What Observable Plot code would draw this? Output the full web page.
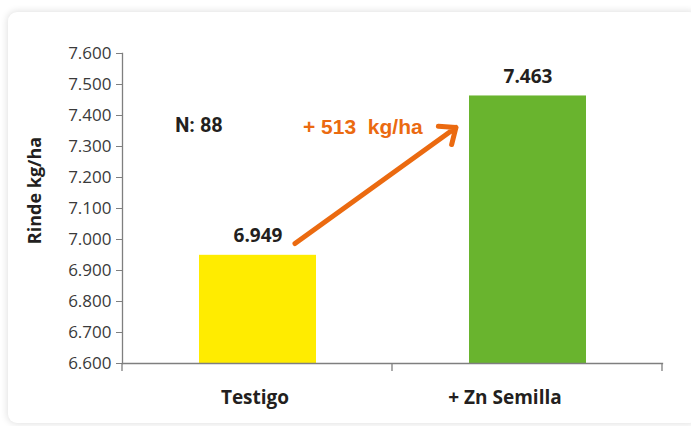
<!DOCTYPE html>
<html>
<head>
<meta charset="utf-8">
<script src="https://cdn.jsdelivr.net/npm/d3@7"></script>
<script src="https://cdn.jsdelivr.net/npm/@observablehq/plot@0.6"></script>
<style>
html, body { margin: 0; padding: 0; background: #fff; }
#wrap { position: relative; width: 691px; height: 426px; overflow: hidden; }
#card { position: absolute; left: 8px; top: 12px; width: 690px; height: 411px; background: #fff; border-radius: 9px; box-shadow: 0 0 7px 1px rgba(0,0,0,0.12); }
#chart { position: absolute; left: 0; top: 0; }
</style>
</head>
<body>
<div id="wrap"><div id="card"></div><div id="chart"></div></div>
<script>
// ---- data ----
const categories = ["Testigo", "+ Zn Semilla"];
const values = [6949, 7463];
const barColors = ["#FFEC00", "#69B42E"];
const yDomain = [6600, 7600];
const yTicks = [6600, 6700, 6800, 6900, 7000, 7100, 7200, 7300, 7400, 7500, 7600];
const yTitle = "Rinde kg/ha";
const nLabel = "N: 88";
const diffLabel = "+ 513  kg/ha";
const arrowFrom = "Testigo";
const arrowTo = "+ Zn Semilla";
const arrowY = [6901, 7529];
const annotY = [7366, 7362];

const fmt = d3.formatLocale({decimal: ",", thousands: ".", grouping: [3], currency: ["", ""]}).format(",");

const data = categories.map((c, i) => ({cat: c, value: values[i], color: barColors[i]}));
const orange = "#EB6A10";
const dark = "#231f20";
const axisGray = "#7f7f7f";

const plot = Plot.plot({
  width: 691,
  height: 426,
  marginLeft: 122,
  marginRight: 29,
  marginTop: 53,
  marginBottom: 63,
  style: {background: "transparent", fontFamily: "'Open Sans', sans-serif", color: "#404040", overflow: "visible"},
  x: {domain: categories, paddingInner: 0.567, paddingOuter: 0.2835, axis: null},
  y: {domain: yDomain, axis: null},
  color: {type: "identity"},
  marks: [
    Plot.barY(data, {x: "cat", y1: yDomain[0], y2: "value", fill: "color"}),
    Plot.axisY({ticks: yTicks, tickFormat: fmt, tickSize: 6, tickPadding: 5, fontSize: 17, stroke: axisGray, fill: "#3a3a3a", label: null}),
    Plot.frame({anchor: "left", stroke: axisGray, strokeWidth: 1.3}),
    Plot.frame({anchor: "bottom", stroke: axisGray, strokeWidth: 1.3}),
    Plot.text(data, {x: "cat", y: "value", text: d => fmt(d.value), lineAnchor: "bottom", dy: -13, fontSize: 19, fontWeight: 700, fill: dark}),
    Plot.text(data.filter(d => d.cat === categories[0]), {x: "cat", y: yDomain[0], text: "cat", lineAnchor: "middle", dy: 34, dx: -3, fontSize: 19, fontWeight: 700, fill: dark}),
    Plot.text(data.filter(d => d.cat === categories[1]), {x: "cat", y: yDomain[0], text: "cat", lineAnchor: "middle", dy: 34, dx: -23, fontSize: 19, fontWeight: 700, fill: dark}),
    Plot.text([yTitle], {text: d => d, frameAnchor: "left", textAnchor: "middle", lineAnchor: "middle", rotate: -90, dx: -87, dy: -18, fontSize: 18, fontWeight: 700, fill: dark}),
    Plot.text([nLabel], {text: d => d, x: () => categories[0], y: () => annotY[0], dx: -59, lineAnchor: "middle", fontFamily: "Roboto", fontSize: 20, fontWeight: 700, fill: dark}),
    Plot.text([diffLabel], {text: d => d, x: () => categories[0], y: () => annotY[1], dx: 45, textAnchor: "start", lineAnchor: "middle", fontFamily: "'Liberation Sans', sans-serif", fontSize: 21, fontWeight: 700, fill: orange}),
    Plot.arrow([{x1: arrowFrom, x2: arrowTo, y1: arrowY[0], y2: arrowY[1]}], {x1: "x1", x2: "x2", y1: "y1", y2: "y2", stroke: orange, strokeWidth: 5, headLength: 5.3, headAngle: 80, insetStart: 45.6, insetEnd: 88.8})
  ]
});

// category tick marks at band boundaries
const xs = plot.scale("x");
const ys = plot.scale("y");
const [r0, r1] = xs.range;
const n = categories.length;
const yb = ys.apply(yDomain[0]);
d3.select(plot).append("g")
  .attr("stroke", axisGray).attr("stroke-width", 1.3)
  .selectAll("line").data(d3.range(n + 1)).join("line")
  .attr("x1", i => r0 + i * (r1 - r0) / n)
  .attr("x2", i => r0 + i * (r1 - r0) / n)
  .attr("y1", yb).attr("y2", yb + 8);

d3.select(plot).selectAll("text").style("white-space", "pre");
document.getElementById("chart").appendChild(plot);
</script>
</body>
</html>
